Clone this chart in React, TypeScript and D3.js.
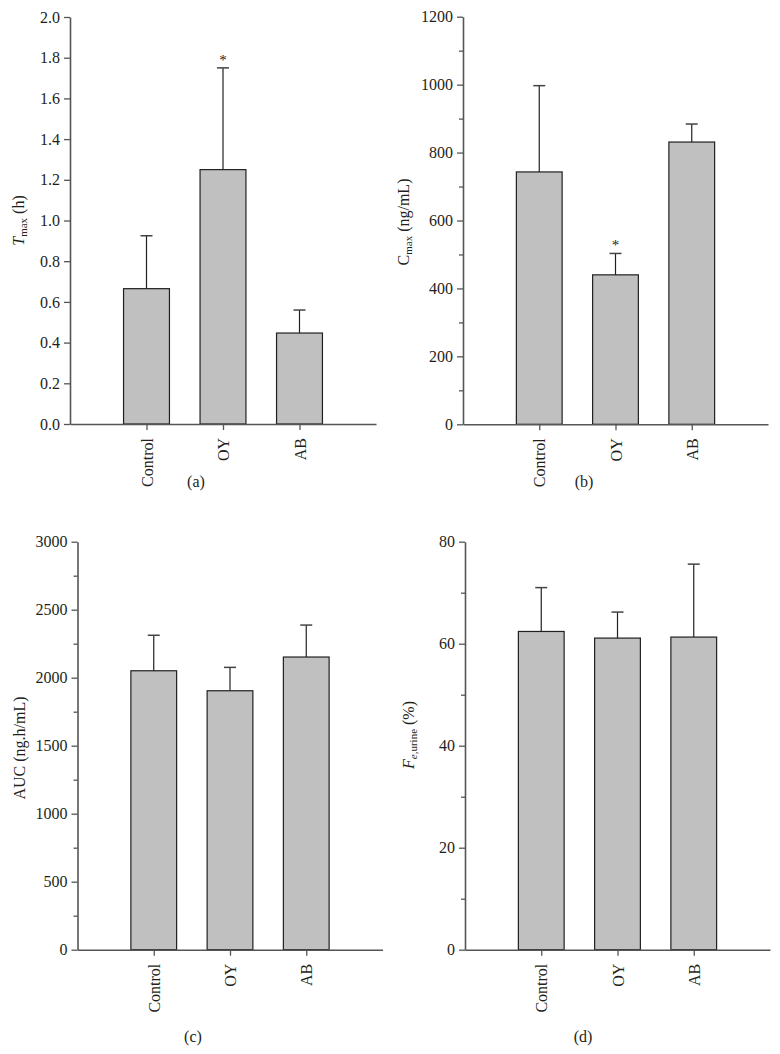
import React, { useRef, useEffect } from 'react';
import * as d3 from 'd3';

// --- Data ---
const groups = ['Control', 'OY', 'AB'];

const tmaxMean = [0.665, 1.25, 0.447];
const tmaxSd = [0.26, 0.5, 0.113];
const tmaxStars = ['', '*', ''];

const cmaxMean = [743, 440, 831];
const cmaxSd = [254, 63, 53];
const cmaxStars = ['', '*', ''];

const aucMean = [2051, 1904, 2152];
const aucSd = [261, 172, 235];

const feMean = [62.4, 61.1, 61.3];
const feSd = [8.6, 5.1, 14.3];

const tmaxTicks = [0, 0.2, 0.4, 0.6, 0.8, 1.0, 1.2, 1.4, 1.6, 1.8, 2.0];
const cmaxTicks = [0, 200, 400, 600, 800, 1000, 1200];
const cmaxMinor = [100, 300, 500, 700, 900, 1100];
const aucTicks = [0, 500, 1000, 1500, 2000, 2500, 3000];
const aucMinor = [250, 750, 1250, 1750, 2250, 2750];
const feTicks = [0, 20, 40, 60, 80];
const feMinor = [10, 30, 50, 70];

const FONT = '"Liberation Serif", "Times New Roman", serif';
const TEXT = '#231f20';
const AXIS = '#555555';

type Panel = {
  mean: number[];
  sd: number[];
  stars?: string[];
  ticks: number[];
  minor?: number[];
  max: number;
  fmt: (v: number) => string;
  x0: number;
  x1: number;
  yTop: number;
  yBot: number;
  titleX: number;
  titleY: number;
  title: (t: d3.Selection<SVGTextElement, unknown, null, undefined>) => void;
  label: string;
  labelX: number;
  labelY: number;
};

const App = () => {
  const svgRef = useRef<SVGSVGElement>(null);

  useEffect(() => {
    const svg = d3.select(svgRef.current).html('');

    const panels: Panel[] = [
      {
        mean: tmaxMean, sd: tmaxSd, stars: tmaxStars, ticks: tmaxTicks, max: 2.0,
        fmt: d3.format('.1f'), x0: 70, x1: 376, yTop: 17, yBot: 424,
        titleX: 24, titleY: 220.5,
        title: t => {
          t.append('tspan').attr('font-style', 'italic').text('T');
          t.append('tspan').attr('font-size', 11).attr('dy', 3).text('max');
          t.append('tspan').attr('dy', -3).text('\u00a0(h)');
        },
        label: '(a)', labelX: 196, labelY: 487,
      },
      {
        mean: cmaxMean, sd: cmaxSd, stars: cmaxStars, ticks: cmaxTicks, minor: cmaxMinor, max: 1200,
        fmt: d3.format('d'), x0: 463, x1: 768, yTop: 16.7, yBot: 424.3,
        titleX: 408.5, titleY: 222,
        title: t => {
          t.append('tspan').text('C');
          t.append('tspan').attr('font-size', 11).attr('dy', 3).text('max');
          t.append('tspan').attr('dy', -3).text('\u00a0(ng/mL)');
        },
        label: '(b)', labelX: 584, labelY: 487,
      },
      {
        mean: aucMean, sd: aucSd, ticks: aucTicks, minor: aucMinor, max: 3000,
        fmt: d3.format('d'), x0: 77.5, x1: 382.5, yTop: 541.7, yBot: 949.7,
        titleX: 24.5, titleY: 748,
        title: t => { t.text('AUC (ng.h/mL)'); },
        label: '(c)', labelX: 193, labelY: 1042,
      },
      {
        mean: feMean, sd: feSd, ticks: feTicks, minor: feMinor, max: 80,
        fmt: d3.format('d'), x0: 465, x1: 770, yTop: 541.7, yBot: 949.7,
        titleX: 414, titleY: 735,
        title: t => {
          t.append('tspan').attr('font-style', 'italic').text('F');
          t.append('tspan').attr('font-size', 11).attr('dy', 3).attr('font-style', 'italic').text('e');
          t.append('tspan').attr('font-size', 11).text(',urine');
          t.append('tspan').attr('dy', -3).text('\u00a0(%)');
        },
        label: '(d)', labelX: 583, labelY: 1042,
      },
    ];

    panels.forEach(p => {
      const g = svg.append('g');
      const x = d3.scaleLinear().domain([0, 4]).range([p.x0, p.x1]);
      const y = d3.scaleLinear().domain([0, p.max]).range([p.yBot, p.yTop]);
      const barW = x(0.6) - x(0);

      // bars
      g.selectAll('.bar')
        .data(p.mean)
        .enter()
        .append('rect')
        .attr('x', (d, i) => x(i + 1) - barW / 2)
        .attr('y', d => y(d))
        .attr('width', barW)
        .attr('height', d => y(0) - y(d))
        .attr('fill', '#c0c0c0')
        .attr('stroke', TEXT)
        .attr('stroke-width', 1.2);

      // error bars (upper only)
      p.mean.forEach((m, i) => {
        const cx = x(i + 1);
        const top = y(m + p.sd[i]);
        g.append('line')
          .attr('x1', cx).attr('x2', cx)
          .attr('y1', y(m)).attr('y2', top)
          .attr('stroke', TEXT).attr('stroke-width', 1.2);
        g.append('line')
          .attr('x1', cx - 6).attr('x2', cx + 6)
          .attr('y1', top).attr('y2', top)
          .attr('stroke', '#444').attr('stroke-width', 1.5);
        if (p.stars && p.stars[i]) {
          g.append('text')
            .attr('x', cx).attr('y', top - 3)
            .attr('text-anchor', 'middle')
            .attr('font-family', FONT).attr('font-size', 15).attr('fill', TEXT)
            .text(p.stars[i]);
        }
      });

      // y axis
      const yAxis = g.append('g')
        .attr('transform', `translate(${p.x0},0)`)
        .call(d3.axisLeft(y).tickValues(p.ticks).tickFormat(d => p.fmt(d as number)).tickSize(6).tickSizeOuter(0).tickPadding(4));
      if (p.minor) {
        g.append('g')
          .attr('transform', `translate(${p.x0},0)`)
          .call(d3.axisLeft(y).tickValues(p.minor).tickFormat(() => '').tickSize(4).tickSizeOuter(0))
          .call(a => a.select('.domain').remove())
          .selectAll('line').attr('stroke', AXIS).attr('stroke-width', 1.3);
      }
      yAxis.select('.domain').attr('stroke', AXIS).attr('stroke-width', 1.6);
      yAxis.selectAll('line').attr('stroke', AXIS).attr('stroke-width', 1.3);
      yAxis.selectAll('text').attr('font-family', FONT).attr('font-size', 16).attr('fill', TEXT);

      // x axis
      const xAxis = g.append('g')
        .attr('transform', `translate(0,${p.yBot})`)
        .call(d3.axisBottom(x).tickValues([1, 2, 3]).tickFormat(d => groups[(d as number) - 1]).tickSize(6).tickSizeOuter(0));
      xAxis.select('.domain').attr('stroke', AXIS).attr('stroke-width', 1.6);
      xAxis.selectAll('line').attr('stroke', AXIS).attr('stroke-width', 1.3);
      xAxis.selectAll('text')
        .attr('font-family', FONT).attr('font-size', 16).attr('fill', TEXT)
        .attr('text-anchor', 'end')
        .attr('dy', null)
        .attr('y', 0)
        .attr('transform', 'translate(5.5,14) rotate(-90)');

      // axis title
      const t = g.append('text')
        .attr('transform', `translate(${p.titleX},${p.titleY}) rotate(-90)`)
        .attr('text-anchor', 'middle')
        .attr('font-family', FONT).attr('font-size', 16).attr('fill', TEXT);
      p.title(t);

      // panel label
      g.append('text')
        .attr('x', p.labelX).attr('y', p.labelY)
        .attr('text-anchor', 'middle')
        .attr('font-family', FONT).attr('font-size', 16).attr('fill', TEXT)
        .text(p.label);
    });
  }, []);

  return (
    <svg
      ref={svgRef}
      width={780}
      height={1054}
      style={{ position: 'absolute', left: 0, top: 0, background: '#fff' }}
    />
  );
};

export default App;
